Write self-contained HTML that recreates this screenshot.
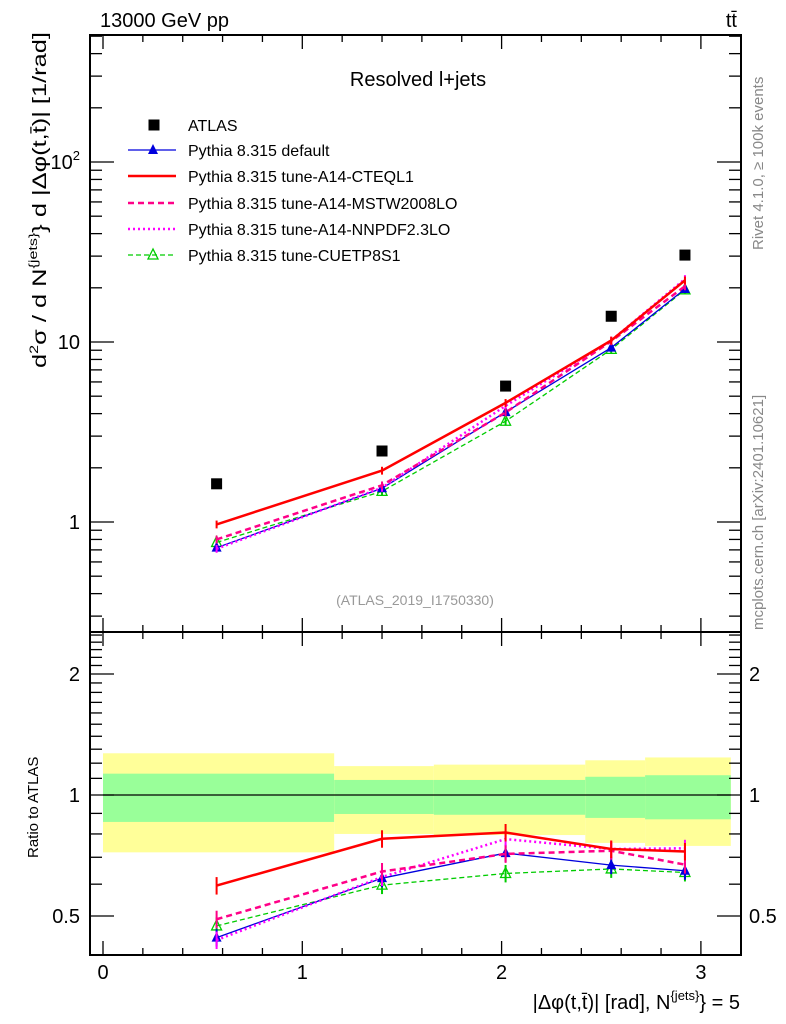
<!DOCTYPE html>
<html><head><meta charset="utf-8"><style>
body{margin:0;background:#fff;}
svg{display:block;font-family:"Liberation Sans",sans-serif;}
</style></head><body>
<svg id="c" width="786" height="1024" viewBox="0 0 786 1024">
<text x="100" y="27" font-size="20">13000 GeV pp</text>
<text x="737" y="27" font-size="20" text-anchor="end">tt̄</text>
<text x="418" y="86" font-size="20" text-anchor="middle">Resolved l+jets</text>
<text x="415" y="605" font-size="14" fill="#999" text-anchor="middle">(ATLAS_2019_I1750330)</text>
<text transform="translate(763,250) rotate(-90)" font-size="15" fill="#888">Rivet 4.1.0, ≥ 100k events</text>
<text transform="translate(763,630) rotate(-90)" font-size="15" fill="#888">mcplots.cern.ch [arXiv:2401.10621]</text>
<text transform="translate(46,368) rotate(-90)" font-size="19" textLength="336" lengthAdjust="spacingAndGlyphs">d<tspan font-size="12" dy="-8">2</tspan><tspan dy="8">σ  /  d N</tspan><tspan font-size="12" dy="-9">{jets}</tspan><tspan dy="9">} d |Δφ(t,t̄)| [1/rad]</tspan></text>
<text transform="translate(38,858) rotate(-90)" font-size="15">Ratio to ATLAS</text>
<text x="740" y="1009" font-size="20" text-anchor="end">|Δφ(t,t̄)| [rad], N<tspan font-size="13" dy="-9">{jets}</tspan><tspan dy="9">} = 5</tspan></text>
<g id="g"></g>
</svg>
<script>
const xCenters=[0.57,1.40,2.02,2.55,2.92];
const binEdges=[0,1.16,1.66,2.42,2.72,3.15];
const atlas=[1.63,2.48,5.69,13.9,30.4];
const pyDefault=[0.72,1.54,4.08,9.3,19.7];
const pyCTEQL1=[0.97,1.93,4.59,10.2,22.0];
const pyMSTW=[0.80,1.60,4.06,10.1,20.4];
const pyNNPDF=[0.71,1.55,4.42,10.2,22.4];
const pyCUETP=[0.77,1.48,3.63,9.1,19.5];
const bandYellowHi=[1.27,1.18,1.19,1.22,1.24];
const bandYellowLo=[0.72,0.80,0.795,0.76,0.747];
const bandGreenHi=[1.13,1.09,1.09,1.11,1.12];
const bandGreenLo=[0.857,0.897,0.893,0.877,0.87];
const xTicks=[0,1,2,3];
const mainTicks=[1,10,100];
const ratioTicks=[0.5,1,2];

const NS="http://www.w3.org/2000/svg";
const g=document.getElementById('g');
function el(t,a,p){const e=document.createElementNS(NS,t);for(const k in a)e.setAttribute(k,a[k]);(p||g).appendChild(e);return e;}
const L=90,R=741,T=35,MB=632,RB=955;
const X=v=>103+v*199.3;
const Y=v=>522-Math.log10(v)*180;
const YR=v=>795-Math.log2(v)*121;

for(let i=0;i<atlas.length;i++){
  let e=el('rect',{x:X(binEdges[i]),y:YR(bandYellowHi[i]),width:X(binEdges[i+1])-X(binEdges[i]),height:YR(bandYellowLo[i])-YR(bandYellowHi[i]),fill:'#ffff99'});
  
  
  e=el('rect',{x:X(binEdges[i]),y:YR(bandGreenHi[i]),width:X(binEdges[i+1])-X(binEdges[i]),height:YR(bandGreenLo[i])-YR(bandGreenHi[i]),fill:'#99ff99'});
  
  
}
let ref=el('line',{x1:X(binEdges[0]),x2:X(binEdges[5]),y1:YR(1),y2:YR(1),stroke:'#000','stroke-width':1.2});



for(const [y1,y2,n] of [[T,MB,'main-frame'],[MB,RB,'ratio-frame']]){
  const f=el('rect',{x:L,y:y1,width:R-L,height:y2-y1,fill:'none',stroke:'#000','stroke-width':2});
  
  
}
function tick(x1,y1,x2,y2){el('line',{x1,y1,x2,y2,stroke:'#000','stroke-width':1.3});}
for(let v=0;v<=3.2;v+=0.2){const x=X(v);const maj=Math.abs(v-Math.round(v))<1e-6;const len=maj?14:7;
  for(const [yb,yt] of [[MB,T],[RB,MB]]){tick(x,yb,x,yb-len);tick(x,yt,x,yt+len);}}
xTicks.forEach(v=>{const t=el('text',{x:X(v),y:979,'font-size':20,'text-anchor':'middle'});t.textContent=v;
  
  });
for(let d=-1;d<=2;d++)for(let m=1;m<=9;m++){const v=m*Math.pow(10,d);const y=Y(v);if(y<T||y>MB)continue;const len=m==1?24:12;tick(L,y,L+len,y);tick(R,y,R-len,y);}
mainTicks.forEach(v=>{const t=el('text',{x:80,y:Y(v)+7,'font-size':20,'text-anchor':'end'});
  if(v==100){t.textContent='10';const s=el('tspan',{'font-size':13,dy:-9},t);s.textContent='2';}else t.textContent=v;
  
  });
for(let k=5;k<=25;k++){const v=k/10;const y=YR(v);if(y<MB||y>RB)continue;const len=(k==5||k==10||k==20)?24:12;tick(L,y,L+len,y);tick(R,y,R-len,y);}
ratioTicks.forEach(v=>{for(const [x,a] of [[80,'end'],[749,'start']]){const t=el('text',{x,y:YR(v)+7,'font-size':20,'text-anchor':a});t.textContent=v;
  
  }});

function marker(type,x,y,color){
  if(type=='sq'){const e=el('rect',{x:x-5.5,y:y-5.5,width:11,height:11,fill:color});return e;}
  if(type=='tri')return el('polygon',{points:`${x},${y-6} ${x-5},${y+4} ${x+5},${y+4}`,fill:color});
  if(type=='otri')return el('polygon',{points:`${x},${y-6} ${x-5},${y+4} ${x+5},${y+4}`,fill:'none',stroke:color,'stroke-width':1.3});
  return null;
}
const series=[
 {n:'pythia-cuetp8s1',d:pyCUETP,c:'#00cc00',w:1.3,da:'5,3',m:'otri',lbl:'Pythia 8.315 tune-CUETP8S1'},
 {n:'pythia-default',d:pyDefault,c:'#0000dd',w:1.3,da:'',m:'tri',lbl:'Pythia 8.315 default'},
 {n:'pythia-nnpdf',d:pyNNPDF,c:'#ff00ff',w:2.5,da:'2,3',m:'',lbl:'Pythia 8.315 tune-A14-NNPDF2.3LO'},
 {n:'pythia-mstw',d:pyMSTW,c:'#ff0088',w:2.5,da:'6,4',m:'',lbl:'Pythia 8.315 tune-A14-MSTW2008LO'},
 {n:'pythia-cteql1',d:pyCTEQL1,c:'#ff0000',w:2.5,da:'',m:'',lbl:'Pythia 8.315 tune-A14-CTEQL1'}
];
series.forEach(s=>{
  for(const [fy,vals,suffix] of [[Y,s.d,''],[YR,s.d.map((v,i)=>v/atlas[i]),'-ratio']]){
    const pts=vals.map((v,i)=>X(xCenters[i])+','+fy(v)).join(' ');
    const p=el('polyline',{points:pts,fill:'none',stroke:s.c,'stroke-width':s.w,'stroke-dasharray':s.da});
    
    
    vals.forEach((v,i)=>{const x=X(xCenters[i]);const e=v*0.05;
      const b=el('line',{x1:x,x2:x,y1:fy(v+e),y2:fy(v-e),stroke:s.c,'stroke-width':2});
      
      
      const mk=marker(s.m,x,fy(v),s.c);
      if(mk){
      }
    });
  }
});
atlas.forEach((v,i)=>{const m=marker('sq',X(xCenters[i]),Y(v),'#000');
  
  });

const legY=[125,150,176,203,229,255];
const legOrder=[null,series[1],series[4],series[3],series[2],series[0]];
legOrder.forEach((s,i)=>{const y=legY[i];
  const t=el('text',{x:188,y:y+6,'font-size':16});t.textContent=s?s.lbl:'ATLAS';
  
  
  if(!s){const m=marker('sq',154,y,'#000');return;}
  const l=el('line',{x1:128,x2:176,y1:y,y2:y,stroke:s.c,'stroke-width':s.w,'stroke-dasharray':s.da});
  
  
  const m=marker(s.m,153,y,s.c);
  if(m){
  }
});
</script>
</body></html>
